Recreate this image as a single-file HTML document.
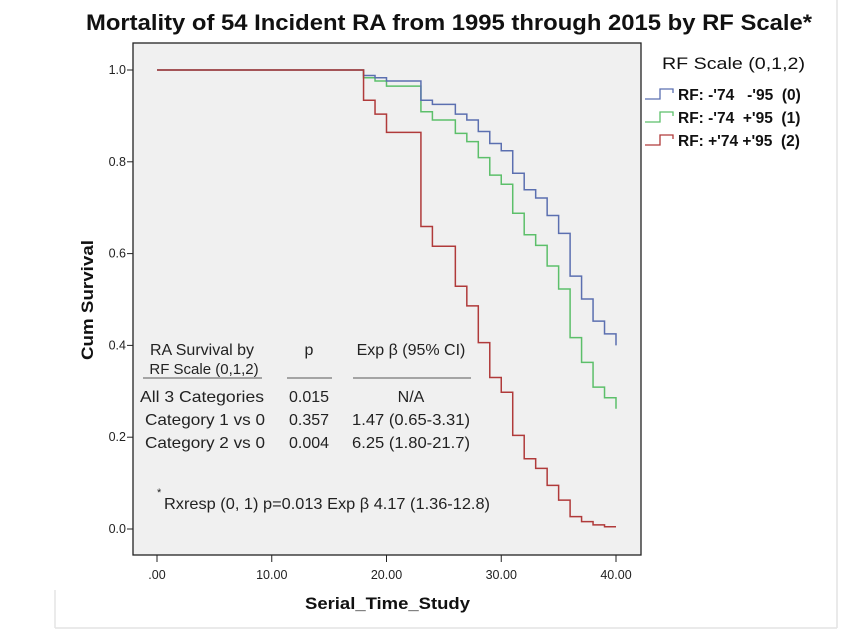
<!DOCTYPE html>
<html><head><meta charset="utf-8"><style>
body{margin:0;background:#fff;}
svg{display:block;font-family:"Liberation Sans",Arial,sans-serif;}
</style></head><body>
<svg id="chart" width="859" height="631" viewBox="0 0 859 631">
<line x1="55" y1="628" x2="837" y2="628" stroke="#e4e4e4" stroke-width="1.5"/>
<line x1="837" y1="0" x2="837" y2="628" stroke="#e4e4e4" stroke-width="1.5"/>
<line x1="55" y1="590" x2="55" y2="628" stroke="#e4e4e4" stroke-width="1.5"/>
<text x="86" y="30" textLength="726" lengthAdjust="spacingAndGlyphs" font-size="22.5" font-weight="bold" fill="#111">Mortality of 54 Incident RA from 1995 through 2015 by RF Scale*</text>
<rect x="133" y="43" width="508" height="512" fill="#f0f0f0" stroke="#222" stroke-width="1.3"/>
<g id="axes"></g>
<g id="series"></g>
<text transform="translate(93,300) rotate(-90)" text-anchor="middle" textLength="120" lengthAdjust="spacingAndGlyphs" font-size="17" font-weight="bold" fill="#111">Cum Survival</text>
<text x="305" y="609" textLength="165" lengthAdjust="spacingAndGlyphs" font-size="17" font-weight="bold" fill="#111">Serial_Time_Study</text>
<g>
<text x="662" y="69" textLength="143" lengthAdjust="spacingAndGlyphs" font-size="16.5" fill="#111">RF Scale (0,1,2)</text>
<g><path d="M645,99 H660 V89 H673 V93" fill="none" stroke="#5b6fb0" stroke-width="1.3"/><text x="678" y="100" font-size="15.5" font-weight="bold" fill="#111" xml:space="preserve">RF: -'74   -'95  (0)</text></g>
<g><path d="M645,122 H660 V112 H673 V116" fill="none" stroke="#5cbf6a" stroke-width="1.3"/><text x="678" y="123" font-size="15.5" font-weight="bold" fill="#111" xml:space="preserve">RF: -'74  +'95  (1)</text></g>
<g><path d="M645,145 H660 V135 H673 V139" fill="none" stroke="#b03a3a" stroke-width="1.3"/><text x="678" y="146" font-size="15.5" font-weight="bold" fill="#111" xml:space="preserve">RF: +'74 +'95  (2)</text></g>
</g>
<g font-family="'Liberation Sans',sans-serif" font-size="16" fill="#222">
<text x="202" y="355" text-anchor="middle">RA Survival by</text>
<text x="204" y="374" text-anchor="middle" font-size="15">RF Scale (0,1,2)</text>
<text x="309" y="355" text-anchor="middle">p</text>
<text x="411" y="355" text-anchor="middle">Exp β (95% CI)</text>
<line x1="143" y1="378" x2="262" y2="378" stroke="#777" stroke-width="1.2"/>
<line x1="287" y1="378" x2="332" y2="378" stroke="#777" stroke-width="1.2"/>
<line x1="353" y1="378" x2="471" y2="378" stroke="#777" stroke-width="1.2"/>
<text x="202" y="402" text-anchor="middle" textLength="124" lengthAdjust="spacingAndGlyphs">All 3 Categories</text>
<text x="309" y="402" text-anchor="middle">0.015</text>
<text x="411" y="402" text-anchor="middle">N/A</text>
<text x="205" y="425" text-anchor="middle" textLength="120" lengthAdjust="spacingAndGlyphs">Category 1 vs 0</text>
<text x="309" y="425" text-anchor="middle">0.357</text>
<text x="411" y="425" text-anchor="middle" textLength="118" lengthAdjust="spacingAndGlyphs">1.47 (0.65-3.31)</text>
<text x="205" y="448" text-anchor="middle" textLength="120" lengthAdjust="spacingAndGlyphs">Category 2 vs 0</text>
<text x="309" y="448" text-anchor="middle">0.004</text>
<text x="411" y="448" text-anchor="middle" textLength="118" lengthAdjust="spacingAndGlyphs">6.25 (1.80-21.7)</text>
<text x="157" y="496" font-size="11">*</text>
<text x="164" y="509" textLength="326" lengthAdjust="spacingAndGlyphs">Rxresp (0, 1) p=0.013 Exp β 4.17 (1.36-12.8)</text>
</g>
</svg>
<script>
const xTicks = [0, 10, 20, 30, 40];
const xTickLabels = [".00", "10.00", "20.00", "30.00", "40.00"];
const yTicks = [0, 0.2, 0.4, 0.6, 0.8, 1.0];
const yTickLabels = ["0.0", "0.2", "0.4", "0.6", "0.8", "1.0"];
const stepTimes0 = [18,19,20,23,24,26,27,28,29,30,31,32,33,34,35,36,37,38,39,40];
const survival0 = [0.988,0.983,0.976,0.934,0.925,0.904,0.891,0.866,0.840,0.824,0.775,0.739,0.721,0.683,0.644,0.551,0.501,0.453,0.425,0.400];
const stepTimes1 = [18,19,20,23,24,26,27,28,29,30,31,32,33,34,35,36,37,38,39,40];
const survival1 = [0.983,0.976,0.965,0.909,0.891,0.862,0.844,0.809,0.771,0.751,0.688,0.641,0.618,0.573,0.523,0.417,0.363,0.309,0.286,0.262];
const stepTimes2 = [18,19,20,23,24,26,27,28,29,30,31,32,33,34,35,36,37,38,39];
const survival2 = [0.934,0.904,0.864,0.659,0.616,0.529,0.486,0.406,0.330,0.298,0.204,0.153,0.132,0.095,0.063,0.027,0.016,0.009,0.005];
const endTime = 40;
const seriesNames = ["series-rf-0","series-rf-1","series-rf-2"];
const seriesColors = ["#5b6fb0","#5cbf6a","#b03a3a"];

const NS = "http://www.w3.org/2000/svg";
function xs(t){ return 157 + t * 11.475; }
function ys(s){ return 529 - s * 459; }
const axes = document.getElementById('axes');
xTicks.forEach((t,i)=>{
  const l = document.createElementNS(NS,'line');
  l.setAttribute('x1',xs(t)); l.setAttribute('x2',xs(t));
  l.setAttribute('y1',555); l.setAttribute('y2',562);
  l.setAttribute('stroke','#222');
  
  
  axes.appendChild(l);
  const tx = document.createElementNS(NS,'text');
  tx.setAttribute('x',xs(t)); tx.setAttribute('y',579);
  tx.setAttribute('text-anchor','middle'); tx.setAttribute('font-size','12.5'); tx.setAttribute('fill','#222');
  tx.textContent = xTickLabels[i];
  
  
  axes.appendChild(tx);
});
yTicks.forEach((v,i)=>{
  const l = document.createElementNS(NS,'line');
  l.setAttribute('x1',127); l.setAttribute('x2',133);
  l.setAttribute('y1',ys(v)); l.setAttribute('y2',ys(v));
  l.setAttribute('stroke','#222');
  
  
  axes.appendChild(l);
  const tx = document.createElementNS(NS,'text');
  tx.setAttribute('x',126); tx.setAttribute('y',ys(v)+4);
  tx.setAttribute('text-anchor','end'); tx.setAttribute('font-size','12.5'); tx.setAttribute('fill','#222');
  tx.textContent = yTickLabels[i];
  
  
  axes.appendChild(tx);
});
const series = document.getElementById('series');
function drawStep(times, vals, k){
  let d = 'M' + xs(0) + ',' + ys(1);
  times.forEach((t,i)=>{
    d += ' H' + xs(t) + ' V' + ys(vals[i]);
  });
  if (times[times.length-1] < endTime) d += ' H' + xs(endTime);
  const p = document.createElementNS(NS,'path');
  p.setAttribute('d', d);
  p.setAttribute('fill','none');
  p.setAttribute('stroke', seriesColors[k]);
  p.setAttribute('stroke-width','1.5');
  
  
  series.appendChild(p);
}
drawStep(stepTimes1, survival1, 1);
drawStep(stepTimes0, survival0, 0);
drawStep(stepTimes2, survival2, 2);
</script>
</body></html>
